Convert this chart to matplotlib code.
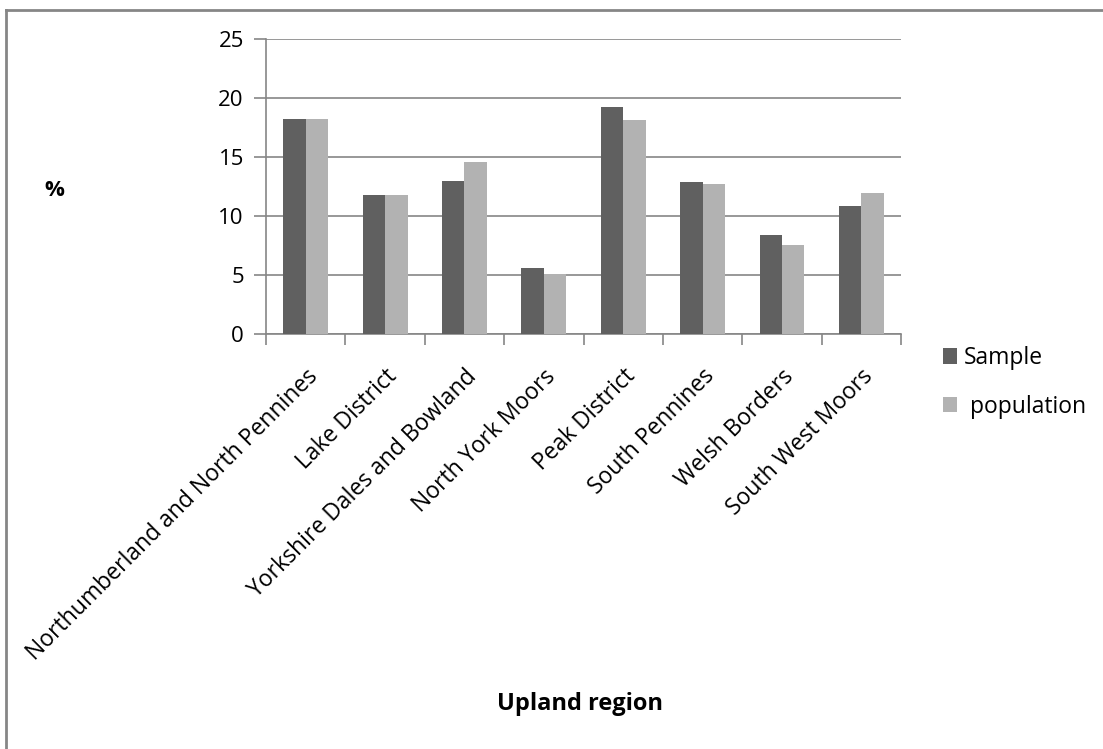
import numpy as np
import matplotlib.pyplot as plt
from matplotlib.lines import Line2D

# Data
regions = ['Northumberland and North Pennines', 'Lake District',
           'Yorkshire Dales and Bowland', 'North York Moors', 'Peak District',
           'South Pennines', 'Welsh Borders', 'South West Moors']
sample = [18.2, 11.8, 13.0, 5.6, 19.25, 12.85, 8.4, 10.85]
population = [18.2, 11.8, 14.55, 5.05, 18.1, 12.75, 7.55, 11.95]
yticks = [0, 5, 10, 15, 20, 25]

plt.rcParams.update({
    "font.family": ["Open Sans", "DejaVu Sans"],
    "font.size": 16,
})

fig = plt.figure(figsize=(11.03, 7.49), dpi=100)
ax = fig.add_axes([0.2412, 0.5541, 0.5757, 0.3938])

x = np.arange(len(regions))
w = 0.283
ax.bar(x - w / 2, sample, w, color='#606060', label='Sample', zorder=3)
ax.bar(x + w / 2, population, w, color='#b2b2b2', label=' population', zorder=3)

ax.set_xlim(-0.5, len(regions) - 0.5)
ax.set_ylim(0, 25)
ax.set_yticks(yticks)
ax.yaxis.grid(True, color='#868686', linewidth=1.2, zorder=0)

for s in ['top', 'right']:
    ax.spines[s].set_visible(False)
for s in ['left', 'bottom']:
    ax.spines[s].set_color('#868686')
    ax.spines[s].set_linewidth(1.2)

ax.tick_params(axis='y', length=9, width=1.2, color='#868686', pad=7,
               labelsize=16)
ax.set_xticks(x)
ax.set_xticklabels(regions, rotation=45, ha='right', rotation_mode='anchor',
                   fontsize=16.5)
ax.tick_params(axis='x', length=0, pad=22)
ax.set_xticks(np.arange(-0.5, len(regions)), minor=True)
ax.tick_params(axis='x', which='minor', length=8, width=1.2, color='#868686')

fig.text(0.049, 0.745, '%', fontsize=16, fontweight='bold', ha='center', va='center')
fig.text(0.526, 0.060, 'Upland region', fontsize=17, fontweight='bold',
         ha='center', va='center')

ax.legend(loc='center left', bbox_to_anchor=(0.836, 0.4895),
          bbox_transform=fig.transFigure, frameon=False, fontsize=16.5,
          handlelength=0.64, handleheight=0.64, handletextpad=0.3,
          labelspacing=1.07)

# chart frame (top and left edges visible)
fig.add_artist(Line2D([6 / 1103, 6 / 1103], [0, 1 - 10 / 749],
                      transform=fig.transFigure, color='#868686', linewidth=2))
fig.add_artist(Line2D([6 / 1103, 1], [1 - 10 / 749, 1 - 10 / 749],
                      transform=fig.transFigure, color='#868686', linewidth=2))

fig.savefig('out.png', dpi=100)
